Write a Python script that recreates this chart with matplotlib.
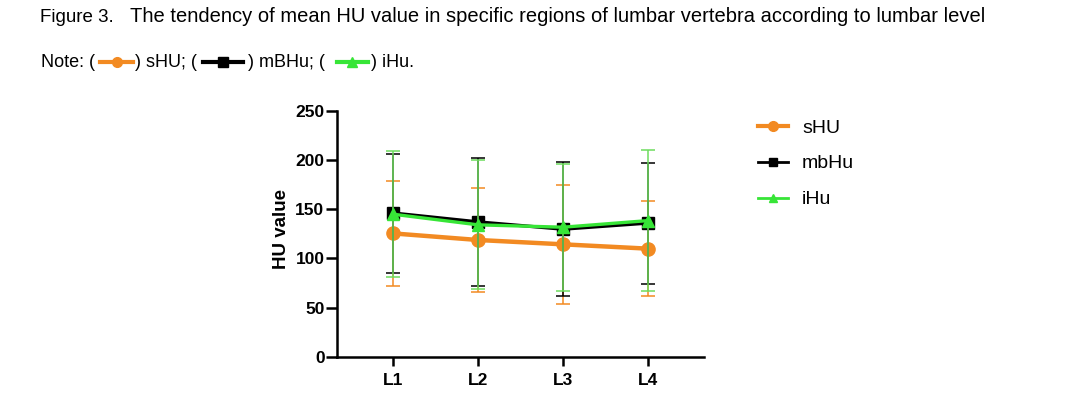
import matplotlib
matplotlib.use("Agg")
import matplotlib.pyplot as plt
from matplotlib.lines import Line2D

# data (mean +/- SD per lumbar level)
levels = ["L1", "L2", "L3", "L4"]
shu_mean = [125.3, 118.6, 114.2, 109.8]
shu_sd = [53.0, 53.0, 60.5, 48.0]
mbhu_mean = [146.0, 137.0, 129.6, 135.8]
mbhu_sd = [60.5, 65.0, 68.0, 61.5]
ihu_mean = [144.8, 134.0, 131.6, 138.3]
ihu_sd = [64.0, 65.5, 64.5, 71.5]
series_names = ["sHU", "mbHu", "iHu"]
yticks = [0, 50, 100, 150, 200, 250]

title_bold = "Figure 3."
title_text = "The tendency of mean HU value in specific regions of lumbar vertebra according to lumbar level"

ORANGE = "#f28a22"
GREEN = "#37e537"
GREEN_ERR = "#6ddc5e"
BLACK = "#000000"

plt.rcParams["font.family"] = ["Liberation Sans", "DejaVu Sans"]

W, H = 1074, 397
fig = plt.figure(figsize=(W / 100, H / 100), dpi=100)


def fx(px):
    return px / W


def fy(py):
    return 1 - py / H


# caption
fig.text(fx(40), fy(22), title_bold, fontsize=13.5, va="baseline", ha="left")
fig.text(fx(130), fy(22), title_text, fontsize=14.5, va="baseline", ha="left")

# note line with inline symbols
note_y = 62
pieces = [(41, "Note: ("), (135, ") sHU; ("), (248, ") mBHu; ("), (371, ") iHu.")]
for x, s in pieces:
    fig.text(fx(x), fy(note_y + 5), s, fontsize=13, va="baseline", ha="left")
symbols = [(100, 133, ORANGE, "o", 7), (203, 243, BLACK, "s", 7), (337, 368, GREEN, "^", 7)]
for x0, x1, c, m, ms in symbols:
    fig.add_artist(Line2D([fx(x0), fx(x1)], [fy(note_y), fy(note_y)], color=c, lw=3,
                          transform=fig.transFigure))
    fig.add_artist(Line2D([fx((x0 + x1) / 2)], [fy(note_y)], color=c, marker=m, ms=ms,
                          transform=fig.transFigure))

# main axes
ax = fig.add_axes([fx(337), fy(356.7), fx(704 - 337), (356.7 - 110.7) / H])
x = list(range(len(levels)))

ax.errorbar(x, shu_mean, yerr=shu_sd, color=ORANGE, lw=3.2, marker="o", ms=9.5,
            elinewidth=1.1, capsize=5, capthick=1.1, ecolor=ORANGE, zorder=3)
ax.errorbar(x, mbhu_mean, yerr=mbhu_sd, color=BLACK, lw=2.4, marker="s", ms=8,
            elinewidth=1.1, capsize=5, capthick=1.1, ecolor=BLACK, zorder=4)
ax.errorbar(x, ihu_mean, yerr=ihu_sd, color=GREEN, lw=2.4, marker="^", ms=8,
            elinewidth=1.1, capsize=5, capthick=1.1, ecolor=GREEN_ERR, zorder=5)

ax.set_xlim(-0.66, 3.66)
ax.set_ylim(0, 250)
ax.set_yticks(yticks)
ax.set_xticks(x)
ax.set_xticklabels(levels)
for side in ("top", "right"):
    ax.spines[side].set_visible(False)
for side in ("left", "bottom"):
    ax.spines[side].set_linewidth(1.8)
ax.tick_params(axis="y", length=8, width=1.8, pad=1, labelsize=12.5)
ax.tick_params(axis="x", length=6.5, width=1.8, pad=5, labelsize=12.5)
for lab in ax.get_xticklabels() + ax.get_yticklabels():
    lab.set_fontweight("bold")
ax.set_ylabel("HU value", fontsize=13.5, fontweight="bold", labelpad=2)
ax.yaxis.set_label_coords(-0.128, 0.52)

handles = [Line2D([], [], color=ORANGE, lw=3, marker="o", ms=7),
           Line2D([], [], color=BLACK, lw=2, marker="s", ms=6),
           Line2D([], [], color=GREEN, lw=2, marker="^", ms=6)]
fig.legend(handles, series_names, loc="upper left", bbox_to_anchor=(fx(758), fy(119)),
           frameon=False, fontsize=14, handlelength=1.55, handletextpad=0.72,
           labelspacing=0.94, borderaxespad=0, borderpad=0)

fig.savefig("out.png", dpi=100)
